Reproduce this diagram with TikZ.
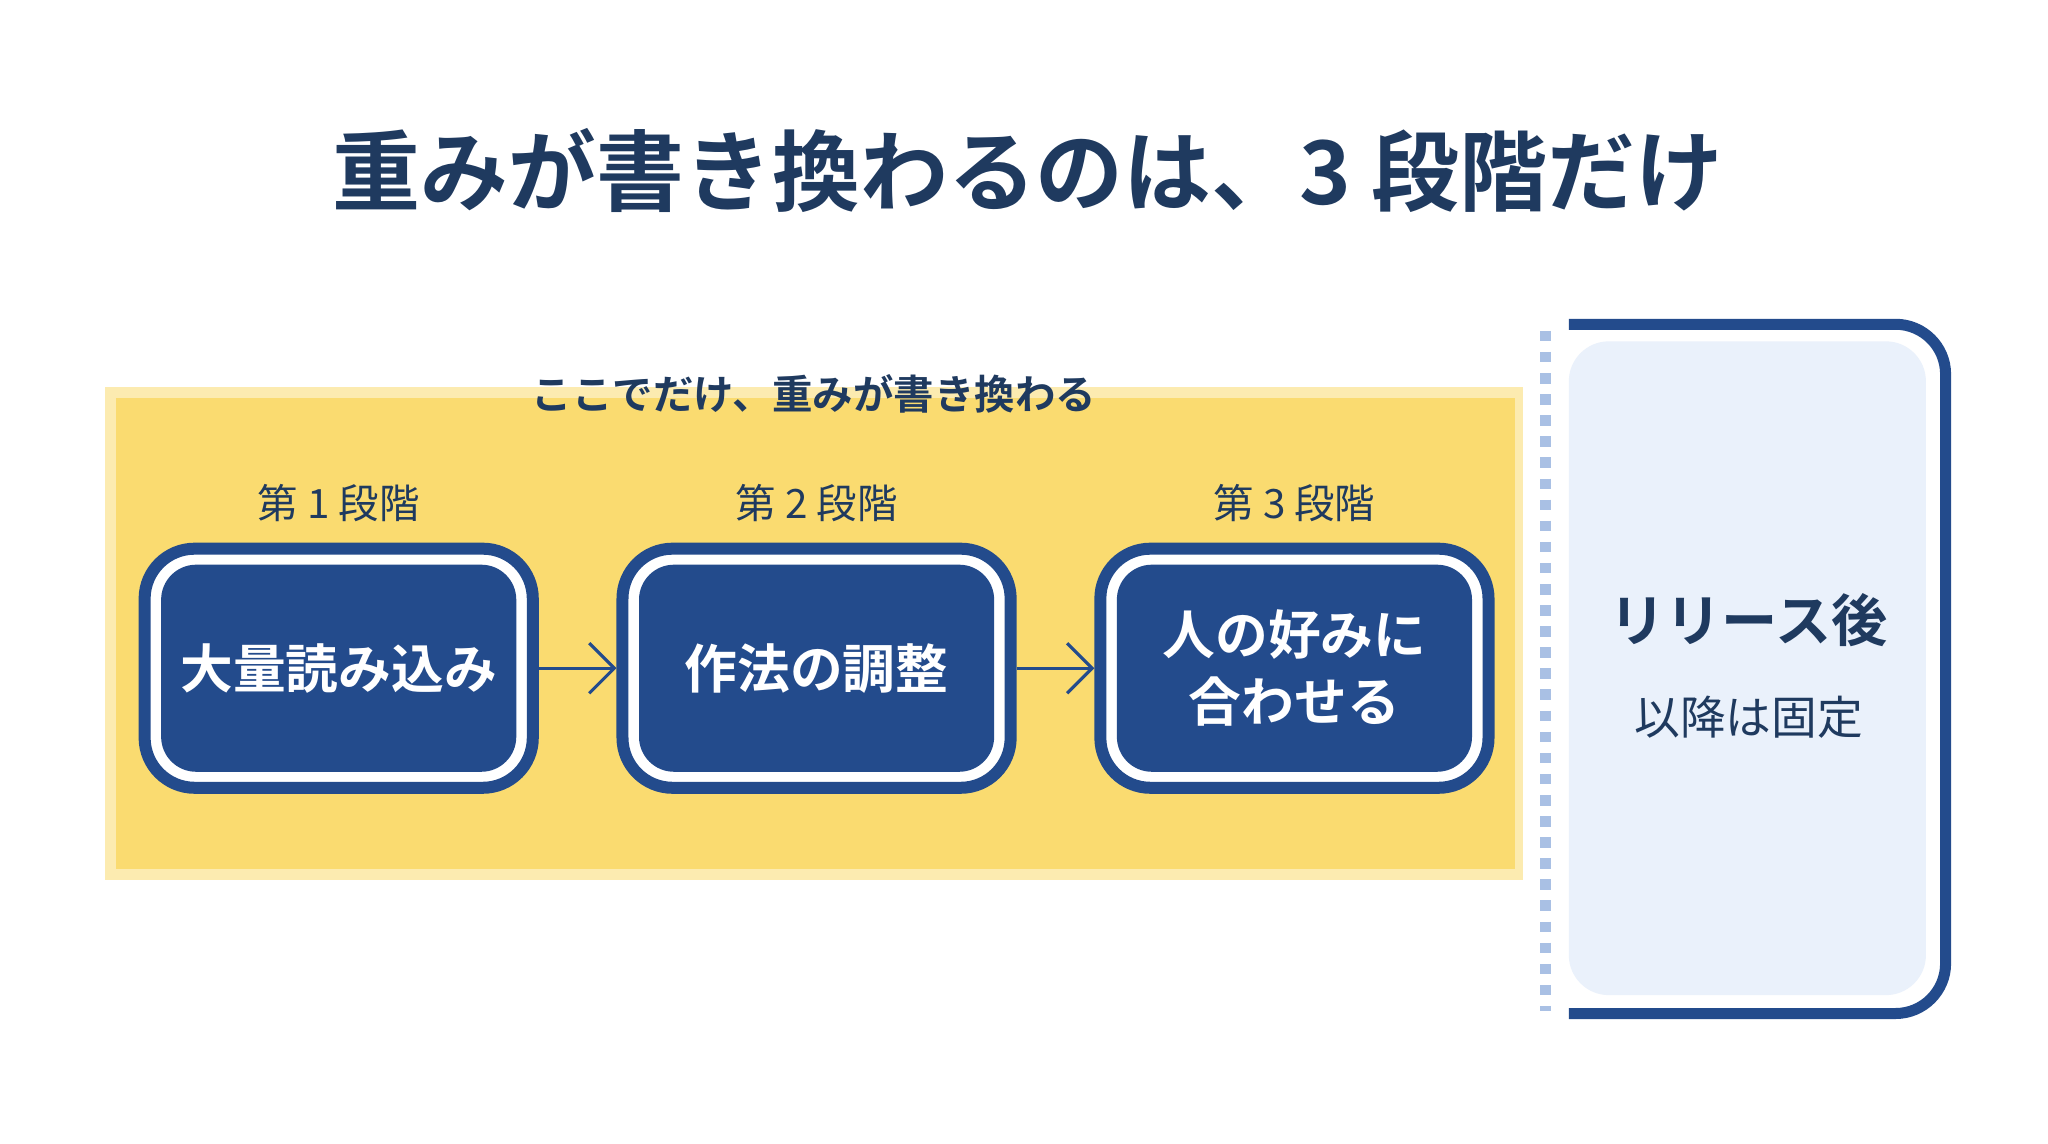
\documentclass[tikz,border=0pt]{standalone}
\usepackage{fontspec}
\setmainfont{Noto Sans CJK JP}
\newfontfamily\jpbold{Noto Sans CJK JP Bold}
\usetikzlibrary{positioning,arrows.meta}
\definecolor{navy}{HTML}{1F3A5F}
\definecolor{boxblue}{HTML}{234B8C}
\definecolor{bandyellow}{HTML}{FADB70}
\definecolor{panelfill}{HTML}{EAF1FB}
\definecolor{dashblue}{HTML}{A9C0E4}
\tikzset{
  stagebox/.style={draw=boxblue, line width=1.2mm, fill=white, rounded corners=5mm,
    minimum width=3.88cm, minimum height=2.39cm},
  stageinner/.style={fill=boxblue, rounded corners=3.5mm, minimum width=3.55cm,
    minimum height=2.07cm, text=white, font=\jpbold\fontsize{15}{19}\selectfont, align=center},
  stagelabel/.style={text=navy, font=\fontsize{11.5}{14}\selectfont},
  flow/.style={-{Straight Barb[length=2.5mm,width=5mm]}, draw=boxblue, line width=0.9pt}
}
\begin{document}
\begin{tikzpicture}[x=0.01313cm, y=-0.01313cm]
  \useasboundingbox (0,0) rectangle (1560,871);
  \fill[white] (0,0) rectangle (1560,871);
  % title
  \node[text=navy, font=\jpbold\fontsize{25}{30}\selectfont] (title) at (783,130) {重みが書き換わるのは、3 段階だけ};
  % yellow band
  \fill[bandyellow!55] (80,295) rectangle (1160,670);
  \fill[bandyellow] (88,303) rectangle (1154,662);
  \node[text=navy, font=\jpbold\fontsize{11.5}{14}\selectfont] (band) at (620,300) {ここでだけ、重みが書き換わる};
  % stages
  \foreach \i/\x/\txt in {1/258/大量読み込み, 2/622/作法の調整, 3/986/{人の好みに\\合わせる}} {
    \node[stagebox] (s\i) at (\x,509) {};
    \node[stageinner] (t\i) at (\x,509) {\txt};
    \node[stagelabel, above=0.08cm of s\i] (l\i) {第 \i\ 段階};
  }
  \draw[flow] (s1.east) -- (s2.west);
  \draw[flow] (s2.east) -- (s3.west);
  % after release
  \fill[panelfill, rounded corners=4mm] (1195,260) rectangle (1467,758);
  \draw[boxblue, line width=1.1mm, rounded corners=5mm] (1195,247) -- (1482,247) -- (1482,772) -- (1195,772);
  \draw[dashblue, line width=1.1mm, dashed] (1177,252) -- (1177,770);
  \node[text=navy, font=\jpbold\fontsize{16}{20}\selectfont] (rel) at (1332,472) {リリース後};
  \node[text=navy, font=\fontsize{13}{16}\selectfont, below=0.25cm of rel] (fix) {以降は固定};
\end{tikzpicture}
\end{document}
